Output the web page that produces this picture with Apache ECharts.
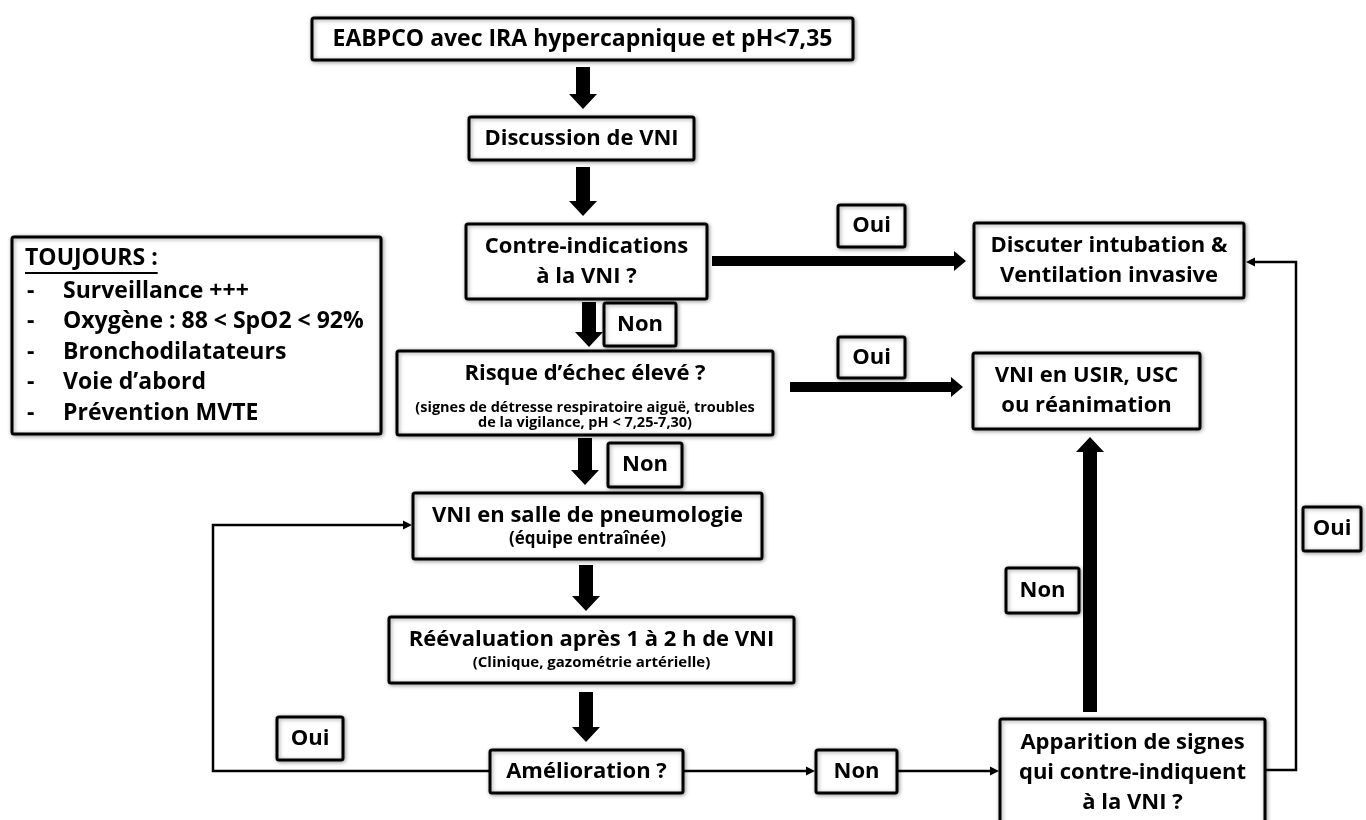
<!DOCTYPE html>
<html>
<head>
<meta charset="utf-8">
<title>EABPCO - VNI</title>
<script src="https://cdn.jsdelivr.net/npm/echarts@6/dist/echarts.min.js"></script>
<style>
  html, body { margin: 0; padding: 0; background: #fff; }
  #chart { width: 1366px; height: 820px; }
</style>
</head>
<body>
<div id="chart"></div>
<script>
// texts of the flowchart
const stepTitles = [
  'EABPCO avec IRA hypercapnique et pH<7,35',
  'Discussion de VNI',
  'Contre-indications\nà la VNI ?',
  'Risque d’échec élevé ?',
  'VNI en salle de pneumologie',
  'Réévaluation après 1 à 2 h de VNI',
  'Amélioration ?',
  'Discuter intubation &\nVentilation invasive',
  'VNI en USIR, USC\nou réanimation',
  'Apparition de signes\nqui contre-indiquent\nà la VNI ?'
]
const stepNotes = [
  '', '', '',
  '(signes de détresse respiratoire aiguë, troubles\nde la vigilance, pH < 7,25-7,30)',
  '(équipe entraînée)',
  '(Clinique, gazométrie artérielle)',
  '', '', '', ''
]
const answerTexts = ['Oui', 'Non', 'Oui', 'Non', 'Non', 'Oui', 'Oui', 'Non']
const alwaysTitle = 'TOUJOURS :'
const alwaysItems = [
  'Surveillance +++',
  'Oxygène : 88 < SpO2 < 92%',
  'Bronchodilatateurs',
  'Voie d’abord',
  'Prévention MVTE'
]

// layout (picture pixels): boxes [x0, y0, x1, y1]
const stepBoxes = [
  [312, 18, 853, 60],
  [469, 117, 694, 160],
  [466, 224, 707, 299],
  [397, 351, 773, 435],
  [413, 493, 762, 559],
  [389, 617, 794, 683],
  [490, 750, 683, 793],
  [974, 223, 1244, 298],
  [973, 353, 1200, 429],
  [1000, 719, 1265, 826]
]
const titleSizes = [23, 22, 22, 22, 22, 22, 22, 22, 22, 22]
const noteSizes = [0, 0, 0, 14.5, 17, 15, 0, 0, 0, 0]
const answerBoxes = [
  [838, 205, 905, 247],
  [604, 303, 676, 346],
  [838, 337, 905, 378],
  [608, 443, 682, 487],
  [1006, 568, 1079, 613],
  [1303, 507, 1361, 551],
  [277, 717, 343, 760],
  [816, 750, 897, 793]
]
const alwaysBox = [12, 237, 381, 434]
// thick arrows [x0, y0, x1 (tip), y1 (tip)]
const bigArrows = [
  [583, 67, 583, 109],
  [583, 167, 583, 216],
  [589, 302, 589, 347],
  [585, 438, 585, 485],
  [586, 565, 586, 611],
  [586, 692, 586, 742],
  [712, 261, 966, 261],
  [790, 387, 963, 387],
  [1090, 712, 1090, 437]
]
// thin connectors, the last point is the arrow tip
const links = [
  [[490, 771], [213, 771], [213, 525], [412, 525]],
  [[683, 771], [815, 771]],
  [[897, 771], [999, 771]],
  [[1265, 770], [1296, 770], [1296, 262], [1246, 262]]
]

const FONT = '"Open Sans", "Noto Sans", sans-serif'
const boxStyle = {
  fill: '#fff',
  stroke: '#000',
  lineWidth: 3,
  shadowBlur: 4,
  shadowColor: 'rgba(0,0,0,0.35)',
  shadowOffsetX: 1,
  shadowOffsetY: 1
}

function rectOf(api) {
  const p0 = api.coord([api.value(0), api.value(1)])
  const p1 = api.coord([api.value(2), api.value(3)])
  return { x: p0[0], y: p0[1], width: p1[0] - p0[0], height: p1[1] - p0[1] }
}

function renderStep(params, api) {
  const r = rectOf(api)
  const i = api.value(4)
  const note = stepNotes[i]
  const children = [{ type: 'rect', shape: Object.assign({ r: 2 }, r), style: boxStyle }]
  const titleY = note ? r.y + 23 : r.y + r.height / 2
  children.push({
    type: 'text',
    style: {
      text: stepTitles[i], x: r.x + r.width / 2, y: titleY,
      align: 'center', verticalAlign: 'middle',
      font: 'bold ' + titleSizes[i] + 'px ' + FONT, lineHeight: 30, fill: '#000'
    }
  })
  if (note) {
    children.push({
      type: 'text',
      style: {
        text: note, x: r.x + r.width / 2, y: r.y + r.height - 20,
        align: 'center', verticalAlign: 'middle',
        font: 'bold ' + noteSizes[i] + 'px ' + FONT, lineHeight: 15, fill: '#000'
      }
    })
  }
  return { type: 'group', children }
}

function renderAnswer(params, api) {
  const r = rectOf(api)
  return {
    type: 'group',
    children: [
      { type: 'rect', shape: Object.assign({ r: 2 }, r), style: boxStyle },
      {
        type: 'text',
        style: {
          text: answerTexts[api.value(4)], x: r.x + r.width / 2, y: r.y + r.height / 2,
          align: 'center', verticalAlign: 'middle',
          font: 'bold 22px ' + FONT, fill: '#000'
        }
      }
    ]
  }
}

const measureCtx = document.createElement('canvas').getContext('2d')
function renderAlways(params, api) {
  const r = rectOf(api)
  const font = 'bold 23px ' + FONT
  measureCtx.font = font
  const titleW = measureCtx.measureText(alwaysTitle).width
  const children = [
    { type: 'rect', shape: Object.assign({ r: 2 }, r), style: boxStyle },
    { type: 'text', style: { text: alwaysTitle, x: r.x + 13, y: r.y + 21, verticalAlign: 'middle', font, fill: '#000' } },
    { type: 'line', shape: { x1: r.x + 13, y1: r.y + 36, x2: r.x + 13 + titleW, y2: r.y + 36 }, style: { stroke: '#000', lineWidth: 2 } }
  ]
  alwaysItems.forEach((t, k) => {
    const y = r.y + 54 + k * 30.5
    children.push({ type: 'text', style: { text: '-', x: r.x + 15, y, verticalAlign: 'middle', font, fill: '#000' } })
    children.push({ type: 'text', style: { text: t, x: r.x + 51, y, verticalAlign: 'middle', font, fill: '#000' } })
  })
  return { type: 'group', children }
}

function arrowHead(tip, from, len, half) {
  const dx = tip[0] - from[0], dy = tip[1] - from[1]
  const d = Math.hypot(dx, dy)
  const ux = dx / d, uy = dy / d
  const bx = tip[0] - ux * len, by = tip[1] - uy * len
  return [[bx - uy * half, by + ux * half], tip, [bx + uy * half, by - ux * half]]
}

function renderBigArrow(params, api) {
  const a = api.coord([api.value(0), api.value(1)])
  const b = api.coord([api.value(2), api.value(3)])
  const dx = b[0] - a[0], dy = b[1] - a[1]
  const len = Math.hypot(dx, dy)
  const ux = dx / len, uy = dy / len, nx = -uy, ny = ux
  const horiz = Math.abs(dx) > Math.abs(dy)
  const shaft = horiz ? 5 : 7
  const head = horiz ? 10 : 14
  const headLen = horiz ? 12 : 15
  const hx = b[0] - ux * headLen, hy = b[1] - uy * headLen
  const points = [
    [a[0] + nx * shaft, a[1] + ny * shaft],
    [hx + nx * shaft, hy + ny * shaft],
    [hx + nx * head, hy + ny * head],
    [b[0], b[1]],
    [hx - nx * head, hy - ny * head],
    [hx - nx * shaft, hy - ny * shaft],
    [a[0] - nx * shaft, a[1] - ny * shaft]
  ]
  return { type: 'polygon', shape: { points }, style: { fill: '#000' } }
}

function renderLink(params, api) {
  const pts = links[api.value(0)].map((p) => api.coord(p))
  const n = pts.length
  const head = arrowHead(pts[n - 1], pts[n - 2], 9, 4.5)
  const body = pts.slice(0, n - 1).concat([[(head[0][0] + head[2][0]) / 2, (head[0][1] + head[2][1]) / 2]])
  return {
    type: 'group',
    children: [
      { type: 'polyline', shape: { points: body }, style: { stroke: '#000', lineWidth: 2.5, fill: null, lineJoin: 'miter' } },
      { type: 'polygon', shape: { points: head }, style: { fill: '#000' } }
    ]
  }
}

const chart = echarts.init(document.getElementById('chart'))
chart.setOption({
  backgroundColor: '#fff',
  animation: false,
  grid: { left: 0, right: 0, top: 0, bottom: 0 },
  xAxis: { type: 'value', min: 0, max: 1366, show: false },
  yAxis: { type: 'value', min: 0, max: 820, inverse: true, show: false },
  series: [
    {
      type: 'custom',
      silent: true,
      renderItem: renderLink,
      data: links.map((c, i) => [i])
    },
    {
      type: 'custom',
      silent: true,
      renderItem: renderBigArrow,
      data: bigArrows
    },
    {
      type: 'custom',
      silent: true,
      renderItem: renderStep,
      data: stepBoxes.map((b, i) => b.concat(i))
    },
    {
      type: 'custom',
      silent: true,
      renderItem: renderAnswer,
      data: answerBoxes.map((b, i) => b.concat(i))
    },
    {
      type: 'custom',
      silent: true,
      renderItem: renderAlways,
      data: [alwaysBox]
    }
  ]
})
window.addEventListener('resize', () => chart.resize())
</script>
</body>
</html>
